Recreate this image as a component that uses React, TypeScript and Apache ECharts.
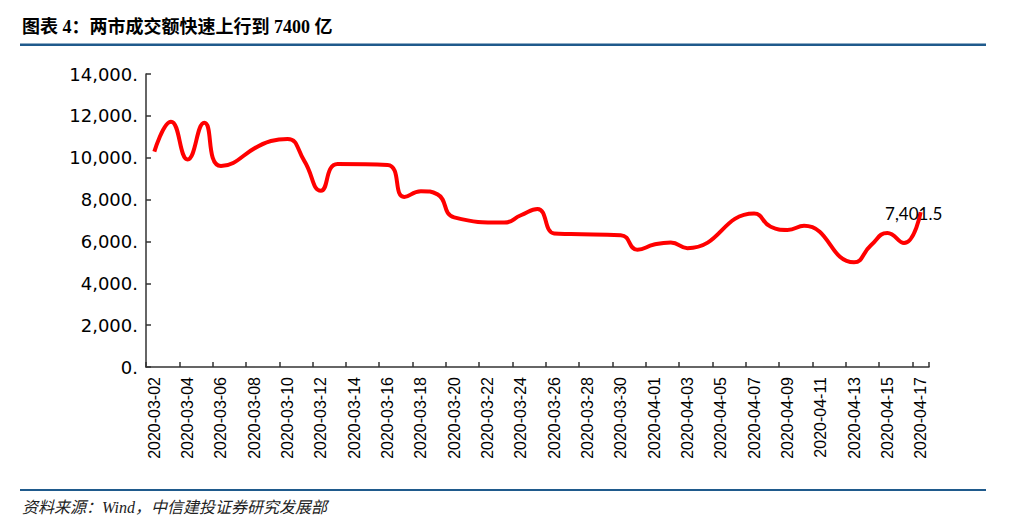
import React, { useEffect, useRef } from "react";
import * as echarts from "echarts";

const categories: string[] = [
  "2020-03-02", "2020-03-03", "2020-03-04", "2020-03-05", "2020-03-06", "2020-03-07", "2020-03-08",
  "2020-03-09", "2020-03-10", "2020-03-11", "2020-03-12", "2020-03-13", "2020-03-14", "2020-03-15",
  "2020-03-16", "2020-03-17", "2020-03-18", "2020-03-19", "2020-03-20", "2020-03-21", "2020-03-22",
  "2020-03-23", "2020-03-24", "2020-03-25", "2020-03-26", "2020-03-27", "2020-03-28", "2020-03-29",
  "2020-03-30", "2020-03-31", "2020-04-01", "2020-04-02", "2020-04-03", "2020-04-04", "2020-04-05",
  "2020-04-06", "2020-04-07", "2020-04-08", "2020-04-09", "2020-04-10", "2020-04-11", "2020-04-12",
  "2020-04-13", "2020-04-14", "2020-04-15", "2020-04-16", "2020-04-17",
];

// 两市成交额（亿元）; null = non-trading day
const turnover: (number | null)[] = [
  10290, 11720, 9920, 11670, 9600, null, null,
  10800, 10900, 9850, 8420, 9700, null, null,
  9650, 8120, 8400, 8250, 7150, null, null,
  6900, 7250, 7550, 6380, 6350, null, null,
  6300, 5600, 5850, 5950, 5680, null, null,
  null, 7330, 6700, 6550, 6750, null, null,
  5000, 5800, 6400, 5920, 7401.5,
];

const yTicks: number[] = [0, 2000, 4000, 6000, 8000, 10000, 12000, 14000];

const titleText = "图表 4：两市成交额快速上行到 7400 亿";
const sourceText = "资料来源：Wind，中信建投证券研究发展部";

export default function App() {
  const ref = useRef<HTMLDivElement>(null);

  useEffect(() => {
    document.body.style.margin = "0";
    if (!ref.current) return;
    const chart = echarts.init(ref.current, undefined, { renderer: "svg" });
    const lastIdx = turnover.length - 1;
    const lastVal = turnover[lastIdx] as number;
    const fmt = (v: number) =>
      v.toLocaleString("en-US", { minimumFractionDigits: 0, maximumFractionDigits: 1 });

    chart.setOption({
      animation: false,
      backgroundColor: "#ffffff",
      grid: { left: 146, top: 74, width: 783, height: 293, containLabel: false },
      xAxis: {
        type: "category",
        data: categories,
        boundaryGap: true,
        axisLine: { show: true, lineStyle: { color: "#333", width: 1.5 } },
        axisTick: { show: true, interval: 1, inside: true, length: 5, lineStyle: { color: "#333", width: 1.5 } },
        axisLabel: {
          interval: 1,
          rotate: 90,
          margin: 10,
          color: "#000",
          fontSize: 16,
          fontFamily: "'Liberation Sans', Arial, sans-serif",
        },
        splitLine: { show: false },
      },
      yAxis: {
        type: "value",
        min: yTicks[0],
        max: yTicks[yTicks.length - 1],
        interval: 2000,
        axisLine: { show: true, lineStyle: { color: "#333", width: 1.5 } },
        axisTick: { show: true, inside: true, length: 5, lineStyle: { color: "#333", width: 1.5 } },
        axisLabel: {
          margin: 8,
          color: "#000",
          fontSize: 18,
          fontFamily: "'DejaVu Sans', sans-serif",
          formatter: (v: number) => v.toLocaleString("en-US") + ".",
        },
        splitLine: { show: false },
      },
      series: [
        {
          type: "line",
          data: turnover,
          connectNulls: true,
          smooth: 0.5,
          showSymbol: false,
          symbol: "none",
          lineStyle: { color: "#ff0000", width: 4 },
          markPoint: {
            symbol: "circle",
            symbolSize: 1,
            itemStyle: { color: "rgba(0,0,0,0)" },
            data: [
              {
                coord: [categories[lastIdx], lastVal],
                value: lastVal,
                label: {
                  show: true,
                  position: "inside",
                  offset: [-7, 1],
                  formatter: fmt(lastVal),
                  color: "#000",
                  fontSize: 17,
                  fontFamily: "Lato, 'Open Sans', sans-serif",
                },
              },
            ],
          },
        },
      ],
      graphic: [
        {
          type: "text",
          left: 22,
          top: 18,
          style: {
            text: titleText,
            font: "bold 18px 'Liberation Serif', 'Noto Sans CJK SC', serif",
            fill: "#000",
          },
        },
        {
          type: "rect",
          shape: { x: 20, y: 43.5, width: 966, height: 2.5 },
          style: { fill: "#1F5A8C" },
        },
        {
          type: "rect",
          shape: { x: 20, y: 489, width: 966, height: 2 },
          style: { fill: "#1F5A8C" },
        },
        {
          type: "text",
          left: 22,
          top: 499,
          style: {
            text: sourceText,
            font: "italic 16px 'Liberation Serif', 'Noto Sans CJK SC', serif",
            fill: "#222",
          },
        },
      ],
    });

    return () => chart.dispose();
  }, []);

  return <div ref={ref} style={{ width: 1009, height: 526 }} />;
}
